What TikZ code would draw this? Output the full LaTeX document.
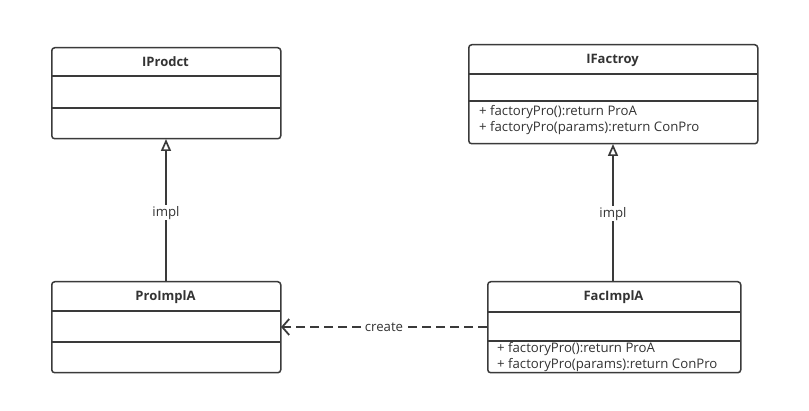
\documentclass[tikz,border=0pt]{standalone}
\usepackage{fontspec}
\setmainfont{Open Sans}
\usetikzlibrary{arrows.meta}
\tikzset{
  umlbox/.style={draw=linecol, line width=1.5pt, rounded corners=3pt, inner sep=0pt, anchor=north west},
  divider/.style={draw=linecol, line width=1.5pt},
  title/.style={font=\fontsize{13}{15}\selectfont\bfseries, text=textcol},
  member/.style={font=\fontsize{13.2}{16}\selectfont, text=textcol, anchor=west, inner sep=0pt},
  impl/.style={draw=linecol, line width=1.8pt, -{Triangle[open, length=12pt, width=10pt, line width=1.7pt]}},
  dep/.style={draw=linecol, line width=1.8pt, dash pattern=on 9pt off 5pt, -{Straight Barb[length=7pt, width=16pt, line width=1.8pt]}},
  lbl/.style={fill=white, font=\fontsize{13.2}{15}\selectfont, text=textcol, inner sep=1pt}
}
\definecolor{linecol}{HTML}{3A3A3A}
\definecolor{textcol}{HTML}{333333}
\begin{document}
\begin{tikzpicture}[x=1pt,y=-1pt]
\useasboundingbox (0,0) rectangle (809,411);
% IProdct
\node[umlbox, minimum width=229pt, minimum height=91pt] (prod) at (51,47) {};
\draw[divider] (51,76) -- (280,76);
\draw[divider] (51,108) -- (280,108);
\node[title] (prodt) at (165.5,62) {IProdct};
% ProImplA
\node[umlbox, minimum width=229pt, minimum height=91pt] (impla) at (51,281) {};
\draw[divider] (51,311) -- (280,311);
\draw[divider] (51,342) -- (280,342);
\node[title] (implat) at (165.5,297) {ProImplA};
% IFactroy
\node[umlbox, minimum width=289pt, minimum height=99pt] (fac) at (468,44) {};
\draw[divider] (468,74) -- (757,74);
\draw[divider] (468,101) -- (757,101);
\node[title] (fact) at (612.5,60) {IFactroy};
\node[member] (facm1) at (479,112) {+ factoryPro():return ProA};
\node[member] (facm2) at (479,128) {+ factoryPro(params):return ConPro};
% FacImplA
\node[umlbox, minimum width=253pt, minimum height=91pt] (faci) at (487,281) {};
\draw[divider] (487,312) -- (740,312);
\draw[divider] (487,341) -- (740,341);
\node[title] (facit) at (613.5,297) {FacImplA};
\node[member] (facim1) at (497,349) {+ factoryPro():return ProA};
\node[member] (facim2) at (497,365) {+ factoryPro(params):return ConPro};
% connectors
\coordinate (a1) at (166,281);
\coordinate (a2) at (166,139);
\draw[impl] (a1) -- node[lbl, pos=0.48] {impl} (a2);
\coordinate (b1) at (613,281);
\coordinate (b2) at (613,144);
\draw[impl] (b1) -- node[lbl, pos=0.49] {impl} (b2);
\coordinate (c1) at (487,327);
\coordinate (c2) at (281,327);
\draw[dep] (c1) -- node[lbl, pos=0.5] {create} (c2);
\end{tikzpicture}
\end{document}
